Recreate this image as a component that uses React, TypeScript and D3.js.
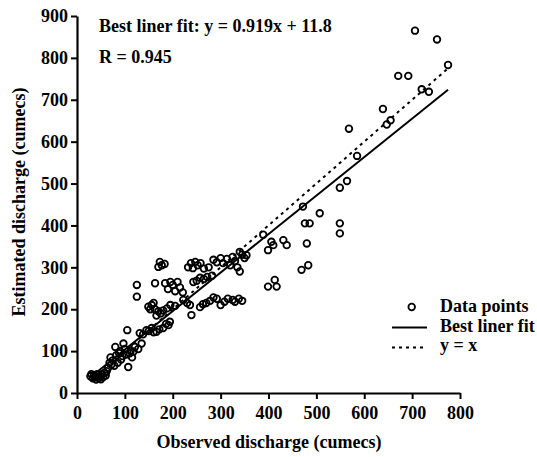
import React, { useRef, useEffect } from "react";
import * as d3 from "d3";

// observed vs estimated discharge (cumecs)
const observed = [
  28, 30, 33, 35, 38, 40, 42, 45, 48, 50, 52, 55, 58, 60, 62,
  65, 68, 70, 72, 75, 78, 80, 82, 85, 88, 90, 92, 95, 97, 100, 103, 105, 107, 110, 112, 115, 118, 121, 125, 125, 128, 131, 135, 138,
  145, 150, 156, 160, 166, 172, 180, 186, 191, 194,
  149, 153, 156, 160, 163, 166, 170, 175, 180, 188, 195, 205,
  163, 170, 173, 177, 183,
  184, 190, 195, 200, 205, 210, 215, 221,
  222, 230, 236, 239,
  232, 238, 242, 247, 252, 258, 265, 275, 285, 292, 300, 305, 313, 320, 325, 330, 335, 340, 345, 350,
  243, 250, 257, 265, 272, 282,
  257, 263, 270, 278, 285, 292, 300, 308, 315, 325, 330, 338, 345,
  340, 354, 389, 399, 406, 410, 431, 438, 399, 413, 417,
  469, 483, 472, 476, 486, 480, 507, 549, 549, 549, 564, 568, 585, 639, 647, 655, 671, 692, 706, 720, 735, 752, 775,
];
const estimated = [
  40, 45, 35, 42, 38, 32, 45, 36, 40, 33, 45, 38, 48, 42, 52,
  60, 72, 85, 68, 78, 65, 110, 90, 72, 95, 100, 80, 88, 118, 105, 92, 150, 62, 95, 100, 85, 99, 110, 258, 230, 105, 143, 118, 140,
  150, 148, 155, 145, 146, 152, 155, 165, 162, 170,
  206, 200, 210, 215, 200, 185, 195, 190, 197, 202, 210, 208,
  262, 301, 313, 305, 308,
  262, 248, 265, 258, 243, 265, 252, 240,
  222, 215, 210, 186,
  300, 310, 298, 313, 305, 310, 297, 300, 318, 312, 322, 310, 320, 305, 325, 315, 300, 290, 330, 322,
  265, 268, 275, 272, 277, 280,
  205, 212, 215, 220, 228, 225, 210, 218, 225, 222, 218, 225, 220,
  337, 329, 378, 341, 361, 353, 365, 353, 254, 270, 254,
  294, 305, 445, 405, 405, 357, 429, 405, 381, 490, 506, 631, 566, 678, 641, 651, 757, 757, 865, 725, 719, 844, 783,
];

const xTicks = [0, 100, 200, 300, 400, 500, 600, 700, 800];
const yTicks = [0, 100, 200, 300, 400, 500, 600, 700, 800, 900];
const slope = 0.919;
const intercept = 11.8;
const lineRange = [30, 775];
const legendLabels = ["Data points", "Best liner fit", "y = x"];

const FONT = "'Liberation Serif', 'Times New Roman', serif";

const ScatterChart = () => {
  const ref = useRef<SVGSVGElement | null>(null);

  useEffect(() => {
    if (!ref.current) return;
    const svg = d3.select(ref.current);
    svg.selectAll("*").remove();

    const x = d3.scaleLinear().domain([0, 800]).range([77, 460]);
    const y = d3.scaleLinear().domain([0, 900]).range([393, 16]);

    // axes
    const xAxis = svg
      .append("g")
      .attr("transform", `translate(0,${y(0)})`)
      .call(d3.axisBottom(x).tickValues(xTicks).tickSize(6).tickPadding(7).tickSizeOuter(0));
    const yAxis = svg
      .append("g")
      .attr("transform", `translate(${x(0)},0)`)
      .call(d3.axisLeft(y).tickValues(yTicks).tickSize(6).tickPadding(3).tickSizeOuter(0));

    [xAxis, yAxis].forEach((g) => {
      g.select(".domain").attr("stroke", "black").attr("stroke-width", 2.2);
      g.selectAll(".tick line").attr("stroke", "black").attr("stroke-width", 2);
      g.selectAll(".tick text")
        .attr("fill", "black")
        .style("font-family", FONT)
        .style("font-size", "18px")
        .style("font-weight", "bold");
    });

    // lines
    const line = d3
      .line<number[]>()
      .x((d) => x(d[0]))
      .y((d) => y(d[1]));
    svg
      .append("path")
      .attr("d", line(lineRange.map((v) => [v, slope * v + intercept])))
      .attr("stroke", "black")
      .attr("stroke-width", 2)
      .attr("fill", "none");
    svg
      .append("path")
      .attr("d", line(lineRange.map((v) => [v, v])))
      .attr("stroke", "black")
      .attr("stroke-width", 2)
      .attr("stroke-dasharray", "3,4")
      .attr("fill", "none");

    // points
    svg
      .append("g")
      .selectAll("circle")
      .data(observed.map((o, i) => [o, estimated[i]]))
      .enter()
      .append("circle")
      .attr("cx", (d) => x(d[0]))
      .attr("cy", (d) => y(d[1]))
      .attr("r", 3.3)
      .attr("fill", "none")
      .attr("stroke", "black")
      .attr("stroke-width", 1.8);

    const txt = (tx: number, ty: number, s: string) =>
      svg
        .append("text")
        .attr("x", tx)
        .attr("y", ty)
        .attr("fill", "black")
        .style("font-family", FONT)
        .style("font-size", "18px")
        .style("font-weight", "bold")
        .text(s);

    // annotation
    txt(99, 32, `Best liner fit: y = ${slope}x + ${intercept}`);
    txt(99, 63, "R = 0.945");

    // legend
    svg
      .append("circle")
      .attr("cx", 411.7)
      .attr("cy", 307)
      .attr("r", 3.3)
      .attr("fill", "none")
      .attr("stroke", "black")
      .attr("stroke-width", 1.8);
    svg.append("line").attr("x1", 392).attr("x2", 427).attr("y1", 327.5).attr("y2", 327.5)
      .attr("stroke", "black").attr("stroke-width", 2);
    svg.append("line").attr("x1", 392).attr("x2", 427).attr("y1", 347.5).attr("y2", 347.5)
      .attr("stroke", "black").attr("stroke-width", 2).attr("stroke-dasharray", "3,4");
    txt(440, 312, legendLabels[0]);
    txt(440, 332, legendLabels[1]);
    txt(440, 351, legendLabels[2]);

    // axis titles
    txt(269, 448, "Observed discharge (cumecs)").attr("x", 269).attr("text-anchor", "middle");
    txt(0, 0, "Estimated discharge (cumecs)")
      .attr("transform", "translate(25,202) rotate(-90)")
      .attr("text-anchor", "middle");
  }, []);

  return (
    <svg
      ref={ref}
      width={537}
      height={457}
      style={{ position: "absolute", left: 0, top: 0, background: "white" }}
    />
  );
};

export default function App() {
  return <ScatterChart />;
}
